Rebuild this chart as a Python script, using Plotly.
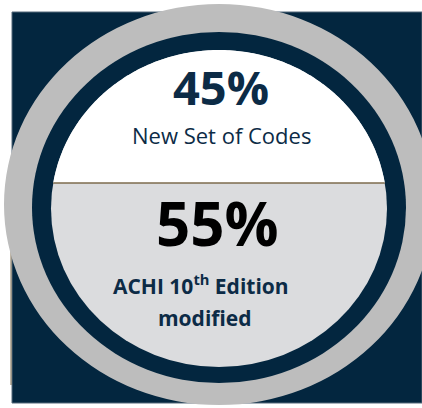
import numpy as np
import plotly.graph_objects as go

# ---- data ----
labels = ["New Set of Codes", "ACHI 10<sup>th</sup> Edition", "modified"]
values = [45, 55]

W, H = 422, 408
NAVY = "#03263F"
RING = "#BDBDBD"
LIGHT = "#DBDCDE"
TXT = "#0C2B46"

# ellipse geometry (pixels)
outer = dict(x0=4, x1=434, y0=4, y1=405)
mid = dict(x0=32, x1=406, y0=32, y1=383)
inner = dict(x0=51, x1=387, y0=50, y1=367)
split_y = 183

shapes = []
shapes.append(dict(type="rect", x0=12, x1=422, y0=12, y1=403, fillcolor=NAVY,
                   line=dict(color="#55687a", width=1), layer="below"))
shapes.append(dict(type="line", x0=11, x1=11, y0=250, y1=385,
                   line=dict(color="#7d6b4c", width=1), layer="below"))
shapes.append(dict(type="circle", **outer, fillcolor=RING, line=dict(width=0), layer="below"))
shapes.append(dict(type="circle", **mid, fillcolor=NAVY, line=dict(width=0), layer="below"))
shapes.append(dict(type="circle", **inner, fillcolor=LIGHT, line=dict(width=0), layer="below"))

# white top segment of inner ellipse
ecx = (inner["x0"] + inner["x1"]) / 2
ecy = (inner["y0"] + inner["y1"]) / 2
a = (inner["x1"] - inner["x0"]) / 2
b = (inner["y1"] - inner["y0"]) / 2
t0 = np.arcsin((ecy - split_y) / b)
ts = np.linspace(t0, np.pi - t0, 200)
xs = ecx + a * np.cos(ts)
ys = ecy - b * np.sin(ts)
path = "M " + " L ".join(f"{x:.2f},{y:.2f}" for x, y in zip(xs, ys)) + " Z"
shapes.append(dict(type="path", path=path, fillcolor="white", line=dict(width=0), layer="below"))
half = a * np.cos(t0)
shapes.append(dict(type="line", x0=ecx - half, x1=ecx + half, y0=split_y, y1=split_y,
                   line=dict(color="#7d6b4c", width=1.5), layer="below"))

FONT = "Open Sans"
annotations = [
    dict(x=221, y=87, text=f"<b>{values[0]}%</b>", font=dict(family=FONT, size=47, color=TXT)),
    dict(x=221, y=135, text=labels[0], font=dict(family=FONT, size=22, color=TXT)),
    dict(x=217, y=223, text=f"<b>{values[1]}%</b>", font=dict(family=FONT, size=60, color="#000000")),
    dict(x=201, y=284, text=f"<b>{labels[1]}</b>", font=dict(family=FONT, size=21, color=TXT)),
    dict(x=205, y=318, text=f"<b>{labels[2]}</b>", font=dict(family=FONT, size=21, color=TXT)),
]
for an in annotations:
    an.update(xref="x", yref="y", showarrow=False, xanchor="center", yanchor="middle")

fig = go.Figure()
fig.update_layout(
    width=W, height=H, margin=dict(l=0, r=0, t=0, b=0),
    paper_bgcolor="white", plot_bgcolor="white",
    xaxis=dict(range=[0, W], visible=False, fixedrange=True),
    yaxis=dict(range=[H, 0], visible=False, fixedrange=True),
    shapes=shapes, annotations=annotations, showlegend=False,
)
fig.write_html("out.html", config={"displayModeBar": False},
               post_script="document.body.style.margin='0';document.body.style.overflow='hidden';")
